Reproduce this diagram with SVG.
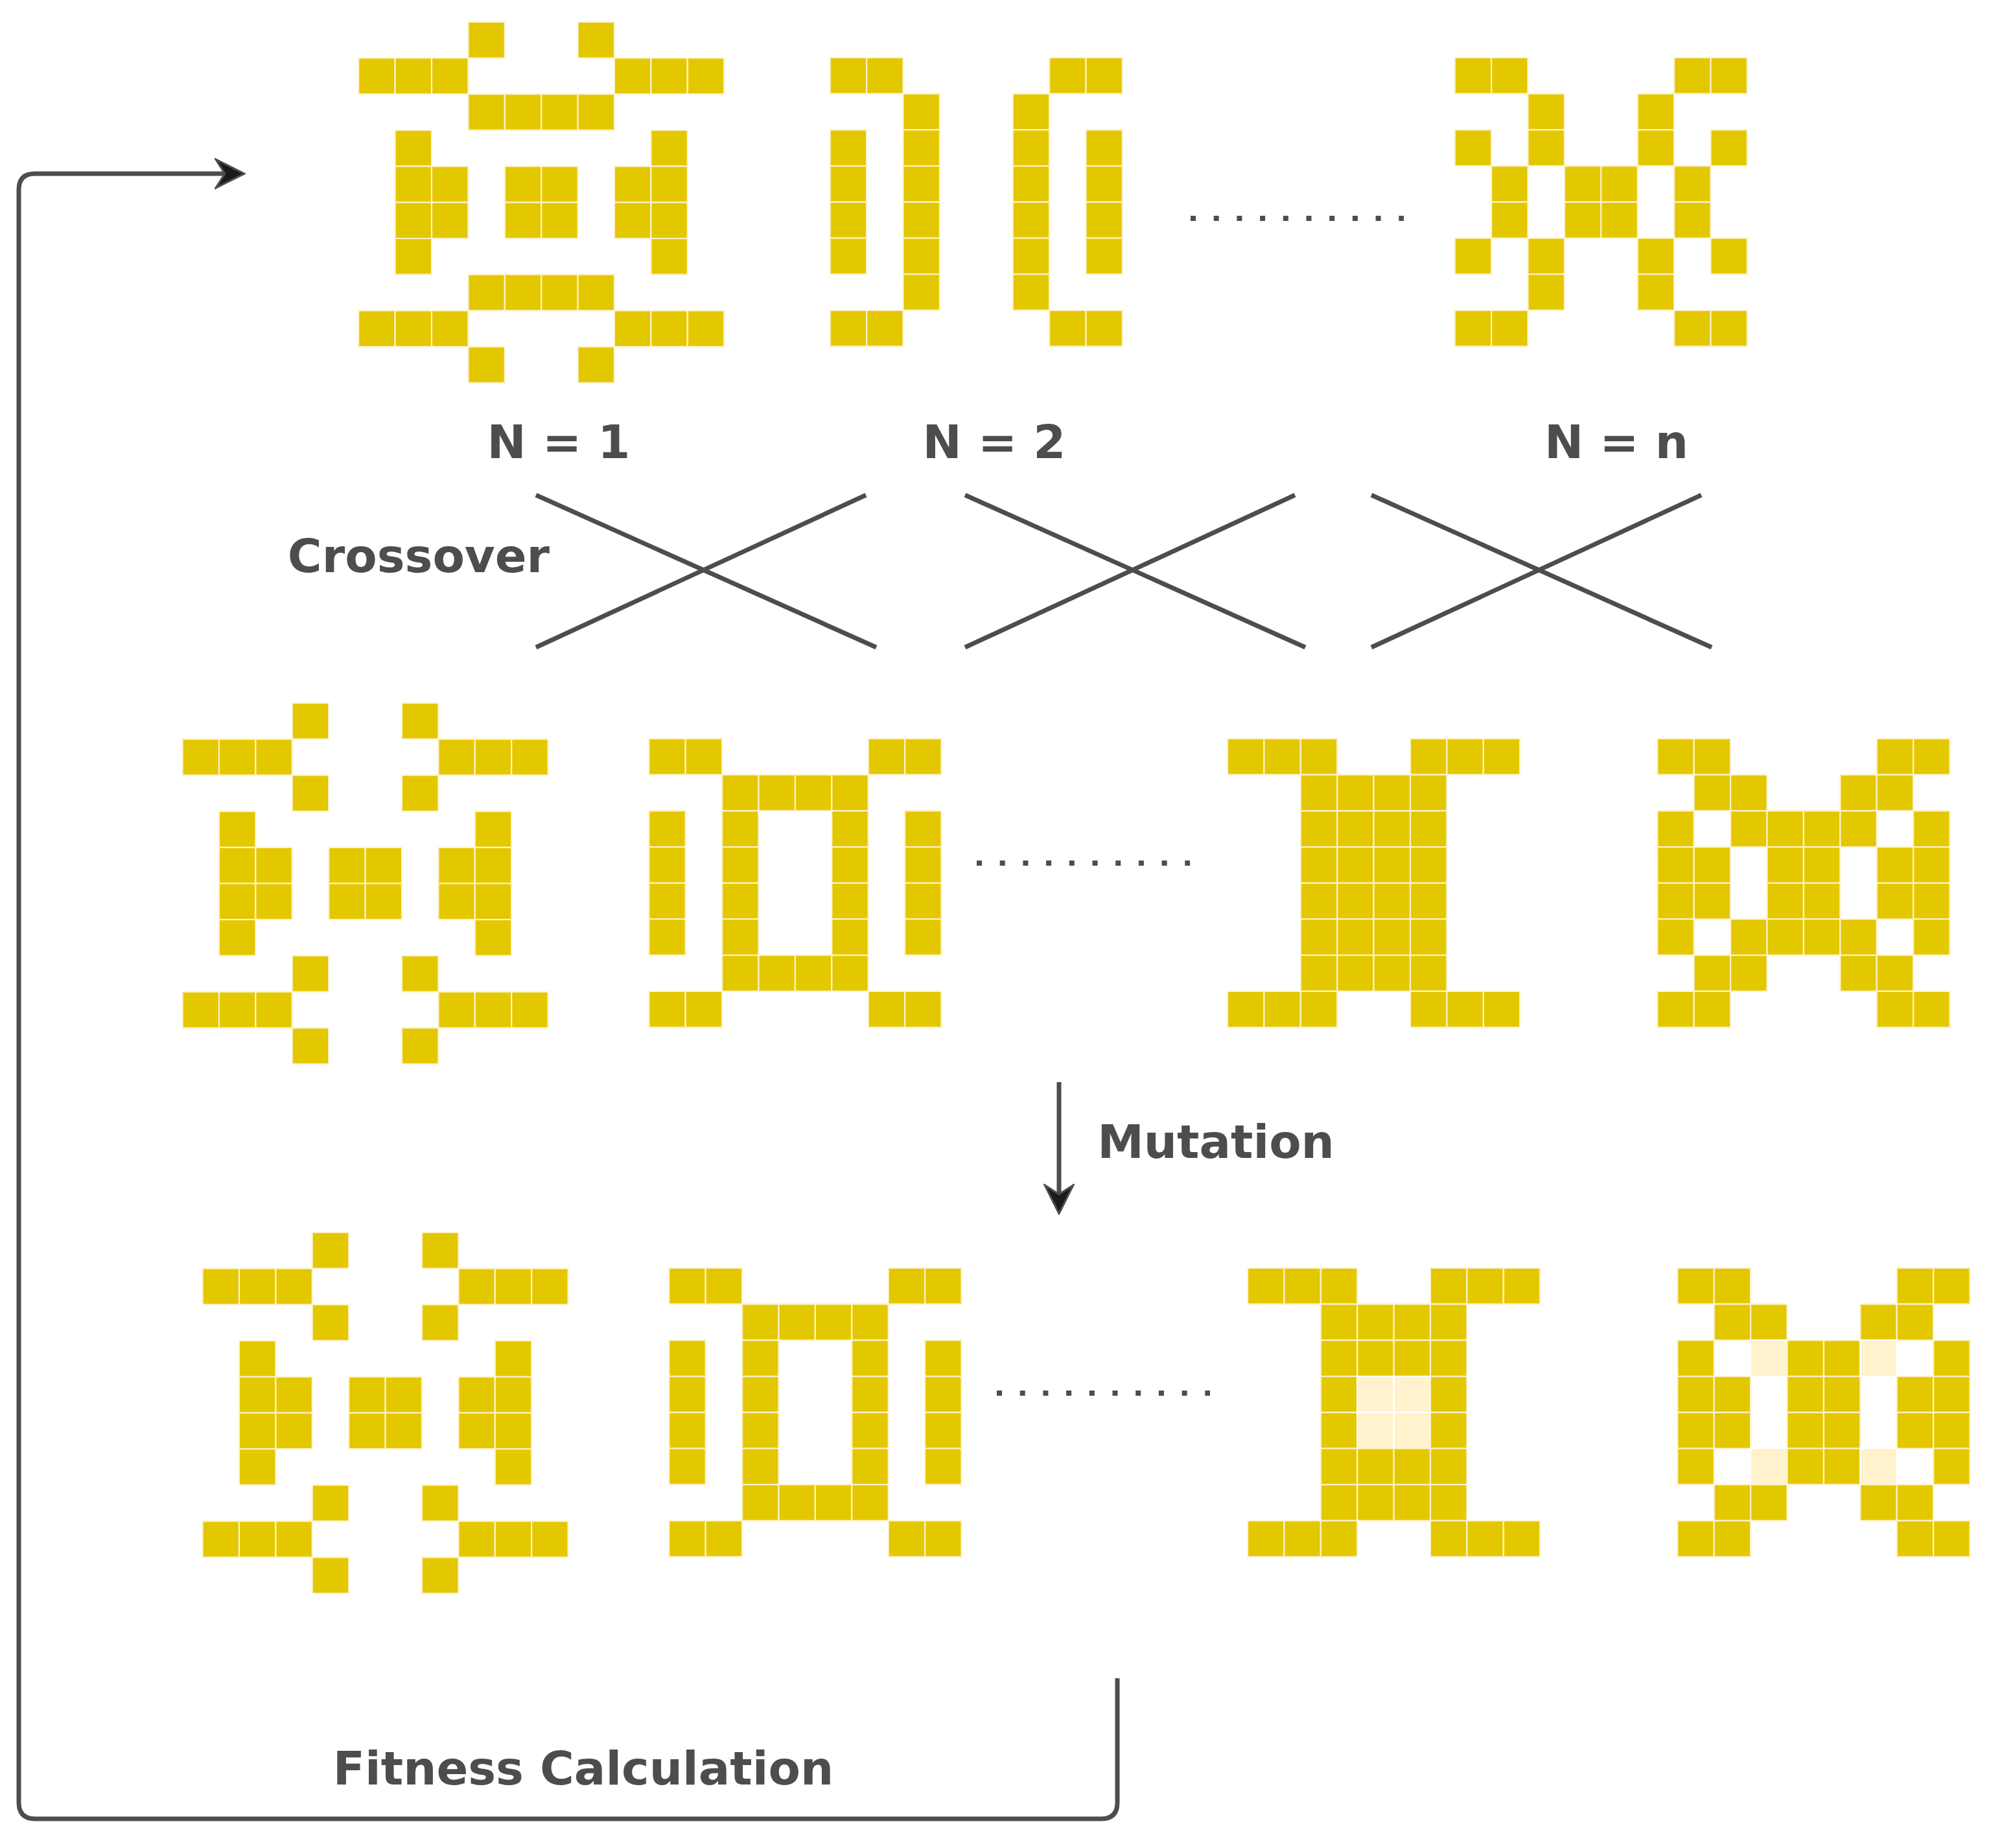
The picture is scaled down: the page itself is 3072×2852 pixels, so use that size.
<svg xmlns="http://www.w3.org/2000/svg" width="3072" height="2852" viewBox="0 0 3072 2852">
<style>
.cell rect{fill:#E3C800;stroke:#FFF2CC;stroke-width:2.2px;vector-effect:non-scaling-stroke}
.cell rect.m{fill:#FFF2CC;stroke:#FFFFFF}
.lbl{font-family:"DejaVu Sans","Liberation Sans",sans-serif;font-weight:bold;font-size:72px;fill:#4D4D4D}
.ln{stroke:#4D4D4D;stroke-width:7;fill:none}
.dots{stroke:#4D4D4D;stroke-width:8;stroke-dasharray:8 27.7;fill:none}
</style>
<defs>
<marker id="arr" viewBox="-16 -24 48 48" markerWidth="48" markerHeight="48" markerUnits="userSpaceOnUse" refX="0" refY="0" orient="auto">
<path d="M30,0 L-14,-22 L0,0 L-14,22 Z" fill="#1A1A1A" stroke="#4D4D4D" stroke-width="3" stroke-linejoin="miter"/>
</marker>
</defs>
<rect width="3072" height="2852" fill="#FFFFFF"/>

<g id="top-n1" class="cell" transform="translate(553.2,33.8) scale(56.4,55.7)">
<rect x="3" y="0" width="1" height="1"/><rect x="6" y="0" width="1" height="1"/>
<rect x="0" y="1" width="1" height="1"/><rect x="1" y="1" width="1" height="1"/><rect x="2" y="1" width="1" height="1"/><rect x="7" y="1" width="1" height="1"/><rect x="8" y="1" width="1" height="1"/><rect x="9" y="1" width="1" height="1"/>
<rect x="3" y="2" width="1" height="1"/><rect x="4" y="2" width="1" height="1"/><rect x="5" y="2" width="1" height="1"/><rect x="6" y="2" width="1" height="1"/>
<rect x="1" y="3" width="1" height="1"/><rect x="8" y="3" width="1" height="1"/>
<rect x="1" y="4" width="1" height="1"/><rect x="2" y="4" width="1" height="1"/><rect x="4" y="4" width="1" height="1"/><rect x="5" y="4" width="1" height="1"/><rect x="7" y="4" width="1" height="1"/><rect x="8" y="4" width="1" height="1"/>
<rect x="1" y="5" width="1" height="1"/><rect x="2" y="5" width="1" height="1"/><rect x="4" y="5" width="1" height="1"/><rect x="5" y="5" width="1" height="1"/><rect x="7" y="5" width="1" height="1"/><rect x="8" y="5" width="1" height="1"/>
<rect x="1" y="6" width="1" height="1"/><rect x="8" y="6" width="1" height="1"/>
<rect x="3" y="7" width="1" height="1"/><rect x="4" y="7" width="1" height="1"/><rect x="5" y="7" width="1" height="1"/><rect x="6" y="7" width="1" height="1"/>
<rect x="0" y="8" width="1" height="1"/><rect x="1" y="8" width="1" height="1"/><rect x="2" y="8" width="1" height="1"/><rect x="7" y="8" width="1" height="1"/><rect x="8" y="8" width="1" height="1"/><rect x="9" y="8" width="1" height="1"/>
<rect x="3" y="9" width="1" height="1"/><rect x="6" y="9" width="1" height="1"/>
</g>

<g id="top-n2" class="cell" transform="translate(1280.7,89) scale(56.4,55.7)">
<rect x="0" y="0" width="1" height="1"/><rect x="1" y="0" width="1" height="1"/><rect x="6" y="0" width="1" height="1"/><rect x="7" y="0" width="1" height="1"/>
<rect x="2" y="1" width="1" height="1"/><rect x="5" y="1" width="1" height="1"/>
<rect x="0" y="2" width="1" height="1"/><rect x="2" y="2" width="1" height="1"/><rect x="5" y="2" width="1" height="1"/><rect x="7" y="2" width="1" height="1"/>
<rect x="0" y="3" width="1" height="1"/><rect x="2" y="3" width="1" height="1"/><rect x="5" y="3" width="1" height="1"/><rect x="7" y="3" width="1" height="1"/>
<rect x="0" y="4" width="1" height="1"/><rect x="2" y="4" width="1" height="1"/><rect x="5" y="4" width="1" height="1"/><rect x="7" y="4" width="1" height="1"/>
<rect x="0" y="5" width="1" height="1"/><rect x="2" y="5" width="1" height="1"/><rect x="5" y="5" width="1" height="1"/><rect x="7" y="5" width="1" height="1"/>
<rect x="2" y="6" width="1" height="1"/><rect x="5" y="6" width="1" height="1"/>
<rect x="0" y="7" width="1" height="1"/><rect x="1" y="7" width="1" height="1"/><rect x="6" y="7" width="1" height="1"/><rect x="7" y="7" width="1" height="1"/>
</g>

<g id="top-nn" class="cell" transform="translate(2244.7,89) scale(56.4,55.7)">
<rect x="0" y="0" width="1" height="1"/><rect x="1" y="0" width="1" height="1"/><rect x="6" y="0" width="1" height="1"/><rect x="7" y="0" width="1" height="1"/>
<rect x="2" y="1" width="1" height="1"/><rect x="5" y="1" width="1" height="1"/>
<rect x="0" y="2" width="1" height="1"/><rect x="2" y="2" width="1" height="1"/><rect x="5" y="2" width="1" height="1"/><rect x="7" y="2" width="1" height="1"/>
<rect x="1" y="3" width="1" height="1"/><rect x="3" y="3" width="1" height="1"/><rect x="4" y="3" width="1" height="1"/><rect x="6" y="3" width="1" height="1"/>
<rect x="1" y="4" width="1" height="1"/><rect x="3" y="4" width="1" height="1"/><rect x="4" y="4" width="1" height="1"/><rect x="6" y="4" width="1" height="1"/>
<rect x="0" y="5" width="1" height="1"/><rect x="2" y="5" width="1" height="1"/><rect x="5" y="5" width="1" height="1"/><rect x="7" y="5" width="1" height="1"/>
<rect x="2" y="6" width="1" height="1"/><rect x="5" y="6" width="1" height="1"/>
<rect x="0" y="7" width="1" height="1"/><rect x="1" y="7" width="1" height="1"/><rect x="6" y="7" width="1" height="1"/><rect x="7" y="7" width="1" height="1"/>
</g>

<g id="mid-a" class="cell" transform="translate(281.6,1085) scale(56.4,55.7)">
<rect x="3" y="0" width="1" height="1"/><rect x="6" y="0" width="1" height="1"/>
<rect x="0" y="1" width="1" height="1"/><rect x="1" y="1" width="1" height="1"/><rect x="2" y="1" width="1" height="1"/><rect x="7" y="1" width="1" height="1"/><rect x="8" y="1" width="1" height="1"/><rect x="9" y="1" width="1" height="1"/>
<rect x="3" y="2" width="1" height="1"/><rect x="6" y="2" width="1" height="1"/>
<rect x="1" y="3" width="1" height="1"/><rect x="8" y="3" width="1" height="1"/>
<rect x="1" y="4" width="1" height="1"/><rect x="2" y="4" width="1" height="1"/><rect x="4" y="4" width="1" height="1"/><rect x="5" y="4" width="1" height="1"/><rect x="7" y="4" width="1" height="1"/><rect x="8" y="4" width="1" height="1"/>
<rect x="1" y="5" width="1" height="1"/><rect x="2" y="5" width="1" height="1"/><rect x="4" y="5" width="1" height="1"/><rect x="5" y="5" width="1" height="1"/><rect x="7" y="5" width="1" height="1"/><rect x="8" y="5" width="1" height="1"/>
<rect x="1" y="6" width="1" height="1"/><rect x="8" y="6" width="1" height="1"/>
<rect x="3" y="7" width="1" height="1"/><rect x="6" y="7" width="1" height="1"/>
<rect x="0" y="8" width="1" height="1"/><rect x="1" y="8" width="1" height="1"/><rect x="2" y="8" width="1" height="1"/><rect x="7" y="8" width="1" height="1"/><rect x="8" y="8" width="1" height="1"/><rect x="9" y="8" width="1" height="1"/>
<rect x="3" y="9" width="1" height="1"/><rect x="6" y="9" width="1" height="1"/>
</g>

<g id="mid-b" class="cell" transform="translate(1001.3,1140) scale(56.4,55.7)">
<rect x="0" y="0" width="1" height="1"/><rect x="1" y="0" width="1" height="1"/><rect x="6" y="0" width="1" height="1"/><rect x="7" y="0" width="1" height="1"/>
<rect x="2" y="1" width="1" height="1"/><rect x="3" y="1" width="1" height="1"/><rect x="4" y="1" width="1" height="1"/><rect x="5" y="1" width="1" height="1"/>
<rect x="0" y="2" width="1" height="1"/><rect x="2" y="2" width="1" height="1"/><rect x="5" y="2" width="1" height="1"/><rect x="7" y="2" width="1" height="1"/>
<rect x="0" y="3" width="1" height="1"/><rect x="2" y="3" width="1" height="1"/><rect x="5" y="3" width="1" height="1"/><rect x="7" y="3" width="1" height="1"/>
<rect x="0" y="4" width="1" height="1"/><rect x="2" y="4" width="1" height="1"/><rect x="5" y="4" width="1" height="1"/><rect x="7" y="4" width="1" height="1"/>
<rect x="0" y="5" width="1" height="1"/><rect x="2" y="5" width="1" height="1"/><rect x="5" y="5" width="1" height="1"/><rect x="7" y="5" width="1" height="1"/>
<rect x="2" y="6" width="1" height="1"/><rect x="3" y="6" width="1" height="1"/><rect x="4" y="6" width="1" height="1"/><rect x="5" y="6" width="1" height="1"/>
<rect x="0" y="7" width="1" height="1"/><rect x="1" y="7" width="1" height="1"/><rect x="6" y="7" width="1" height="1"/><rect x="7" y="7" width="1" height="1"/>
</g>

<g id="mid-c" class="cell" transform="translate(1894,1140) scale(56.4,55.7)">
<rect x="0" y="0" width="1" height="1"/><rect x="1" y="0" width="1" height="1"/><rect x="2" y="0" width="1" height="1"/><rect x="5" y="0" width="1" height="1"/><rect x="6" y="0" width="1" height="1"/><rect x="7" y="0" width="1" height="1"/>
<rect x="2" y="1" width="1" height="1"/><rect x="3" y="1" width="1" height="1"/><rect x="4" y="1" width="1" height="1"/><rect x="5" y="1" width="1" height="1"/>
<rect x="2" y="2" width="1" height="1"/><rect x="3" y="2" width="1" height="1"/><rect x="4" y="2" width="1" height="1"/><rect x="5" y="2" width="1" height="1"/>
<rect x="2" y="3" width="1" height="1"/><rect x="3" y="3" width="1" height="1"/><rect x="4" y="3" width="1" height="1"/><rect x="5" y="3" width="1" height="1"/>
<rect x="2" y="4" width="1" height="1"/><rect x="3" y="4" width="1" height="1"/><rect x="4" y="4" width="1" height="1"/><rect x="5" y="4" width="1" height="1"/>
<rect x="2" y="5" width="1" height="1"/><rect x="3" y="5" width="1" height="1"/><rect x="4" y="5" width="1" height="1"/><rect x="5" y="5" width="1" height="1"/>
<rect x="2" y="6" width="1" height="1"/><rect x="3" y="6" width="1" height="1"/><rect x="4" y="6" width="1" height="1"/><rect x="5" y="6" width="1" height="1"/>
<rect x="0" y="7" width="1" height="1"/><rect x="1" y="7" width="1" height="1"/><rect x="2" y="7" width="1" height="1"/><rect x="5" y="7" width="1" height="1"/><rect x="6" y="7" width="1" height="1"/><rect x="7" y="7" width="1" height="1"/>
</g>

<g id="mid-d" class="cell" transform="translate(2557.3,1140) scale(56.4,55.7)">
<rect x="0" y="0" width="1" height="1"/><rect x="1" y="0" width="1" height="1"/><rect x="6" y="0" width="1" height="1"/><rect x="7" y="0" width="1" height="1"/>
<rect x="1" y="1" width="1" height="1"/><rect x="2" y="1" width="1" height="1"/><rect x="5" y="1" width="1" height="1"/><rect x="6" y="1" width="1" height="1"/>
<rect x="0" y="2" width="1" height="1"/><rect x="2" y="2" width="1" height="1"/><rect x="3" y="2" width="1" height="1"/><rect x="4" y="2" width="1" height="1"/><rect x="5" y="2" width="1" height="1"/><rect x="7" y="2" width="1" height="1"/>
<rect x="0" y="3" width="1" height="1"/><rect x="1" y="3" width="1" height="1"/><rect x="3" y="3" width="1" height="1"/><rect x="4" y="3" width="1" height="1"/><rect x="6" y="3" width="1" height="1"/><rect x="7" y="3" width="1" height="1"/>
<rect x="0" y="4" width="1" height="1"/><rect x="1" y="4" width="1" height="1"/><rect x="3" y="4" width="1" height="1"/><rect x="4" y="4" width="1" height="1"/><rect x="6" y="4" width="1" height="1"/><rect x="7" y="4" width="1" height="1"/>
<rect x="0" y="5" width="1" height="1"/><rect x="2" y="5" width="1" height="1"/><rect x="3" y="5" width="1" height="1"/><rect x="4" y="5" width="1" height="1"/><rect x="5" y="5" width="1" height="1"/><rect x="7" y="5" width="1" height="1"/>
<rect x="1" y="6" width="1" height="1"/><rect x="2" y="6" width="1" height="1"/><rect x="5" y="6" width="1" height="1"/><rect x="6" y="6" width="1" height="1"/>
<rect x="0" y="7" width="1" height="1"/><rect x="1" y="7" width="1" height="1"/><rect x="6" y="7" width="1" height="1"/><rect x="7" y="7" width="1" height="1"/>
</g>

<g id="bot-a" class="cell" transform="translate(312.6,1902) scale(56.4,55.7)">
<rect x="3" y="0" width="1" height="1"/><rect x="6" y="0" width="1" height="1"/>
<rect x="0" y="1" width="1" height="1"/><rect x="1" y="1" width="1" height="1"/><rect x="2" y="1" width="1" height="1"/><rect x="7" y="1" width="1" height="1"/><rect x="8" y="1" width="1" height="1"/><rect x="9" y="1" width="1" height="1"/>
<rect x="3" y="2" width="1" height="1"/><rect x="6" y="2" width="1" height="1"/>
<rect x="1" y="3" width="1" height="1"/><rect x="8" y="3" width="1" height="1"/>
<rect x="1" y="4" width="1" height="1"/><rect x="2" y="4" width="1" height="1"/><rect x="4" y="4" width="1" height="1"/><rect x="5" y="4" width="1" height="1"/><rect x="7" y="4" width="1" height="1"/><rect x="8" y="4" width="1" height="1"/>
<rect x="1" y="5" width="1" height="1"/><rect x="2" y="5" width="1" height="1"/><rect x="4" y="5" width="1" height="1"/><rect x="5" y="5" width="1" height="1"/><rect x="7" y="5" width="1" height="1"/><rect x="8" y="5" width="1" height="1"/>
<rect x="1" y="6" width="1" height="1"/><rect x="8" y="6" width="1" height="1"/>
<rect x="3" y="7" width="1" height="1"/><rect x="6" y="7" width="1" height="1"/>
<rect x="0" y="8" width="1" height="1"/><rect x="1" y="8" width="1" height="1"/><rect x="2" y="8" width="1" height="1"/><rect x="7" y="8" width="1" height="1"/><rect x="8" y="8" width="1" height="1"/><rect x="9" y="8" width="1" height="1"/>
<rect x="3" y="9" width="1" height="1"/><rect x="6" y="9" width="1" height="1"/>
</g>

<g id="bot-b" class="cell" transform="translate(1032.3,1957) scale(56.4,55.7)">
<rect x="0" y="0" width="1" height="1"/><rect x="1" y="0" width="1" height="1"/><rect x="6" y="0" width="1" height="1"/><rect x="7" y="0" width="1" height="1"/>
<rect x="2" y="1" width="1" height="1"/><rect x="3" y="1" width="1" height="1"/><rect x="4" y="1" width="1" height="1"/><rect x="5" y="1" width="1" height="1"/>
<rect x="0" y="2" width="1" height="1"/><rect x="2" y="2" width="1" height="1"/><rect x="5" y="2" width="1" height="1"/><rect x="7" y="2" width="1" height="1"/>
<rect x="0" y="3" width="1" height="1"/><rect x="2" y="3" width="1" height="1"/><rect x="5" y="3" width="1" height="1"/><rect x="7" y="3" width="1" height="1"/>
<rect x="0" y="4" width="1" height="1"/><rect x="2" y="4" width="1" height="1"/><rect x="5" y="4" width="1" height="1"/><rect x="7" y="4" width="1" height="1"/>
<rect x="0" y="5" width="1" height="1"/><rect x="2" y="5" width="1" height="1"/><rect x="5" y="5" width="1" height="1"/><rect x="7" y="5" width="1" height="1"/>
<rect x="2" y="6" width="1" height="1"/><rect x="3" y="6" width="1" height="1"/><rect x="4" y="6" width="1" height="1"/><rect x="5" y="6" width="1" height="1"/>
<rect x="0" y="7" width="1" height="1"/><rect x="1" y="7" width="1" height="1"/><rect x="6" y="7" width="1" height="1"/><rect x="7" y="7" width="1" height="1"/>
</g>

<g id="bot-c" class="cell" transform="translate(1925,1957) scale(56.4,55.7)">
<rect x="0" y="0" width="1" height="1"/><rect x="1" y="0" width="1" height="1"/><rect x="2" y="0" width="1" height="1"/><rect x="5" y="0" width="1" height="1"/><rect x="6" y="0" width="1" height="1"/><rect x="7" y="0" width="1" height="1"/>
<rect x="2" y="1" width="1" height="1"/><rect x="3" y="1" width="1" height="1"/><rect x="4" y="1" width="1" height="1"/><rect x="5" y="1" width="1" height="1"/>
<rect x="2" y="2" width="1" height="1"/><rect x="3" y="2" width="1" height="1"/><rect x="4" y="2" width="1" height="1"/><rect x="5" y="2" width="1" height="1"/>
<rect x="2" y="3" width="1" height="1"/><rect class="m" x="3" y="3" width="1" height="1"/><rect class="m" x="4" y="3" width="1" height="1"/><rect x="5" y="3" width="1" height="1"/>
<rect x="2" y="4" width="1" height="1"/><rect class="m" x="3" y="4" width="1" height="1"/><rect class="m" x="4" y="4" width="1" height="1"/><rect x="5" y="4" width="1" height="1"/>
<rect x="2" y="5" width="1" height="1"/><rect x="3" y="5" width="1" height="1"/><rect x="4" y="5" width="1" height="1"/><rect x="5" y="5" width="1" height="1"/>
<rect x="2" y="6" width="1" height="1"/><rect x="3" y="6" width="1" height="1"/><rect x="4" y="6" width="1" height="1"/><rect x="5" y="6" width="1" height="1"/>
<rect x="0" y="7" width="1" height="1"/><rect x="1" y="7" width="1" height="1"/><rect x="2" y="7" width="1" height="1"/><rect x="5" y="7" width="1" height="1"/><rect x="6" y="7" width="1" height="1"/><rect x="7" y="7" width="1" height="1"/>
</g>

<g id="bot-d" class="cell" transform="translate(2588.3,1957) scale(56.4,55.7)">
<rect x="0" y="0" width="1" height="1"/><rect x="1" y="0" width="1" height="1"/><rect x="6" y="0" width="1" height="1"/><rect x="7" y="0" width="1" height="1"/>
<rect x="1" y="1" width="1" height="1"/><rect x="2" y="1" width="1" height="1"/><rect x="5" y="1" width="1" height="1"/><rect x="6" y="1" width="1" height="1"/>
<rect x="0" y="2" width="1" height="1"/><rect class="m" x="2" y="2" width="1" height="1"/><rect x="3" y="2" width="1" height="1"/><rect x="4" y="2" width="1" height="1"/><rect class="m" x="5" y="2" width="1" height="1"/><rect x="7" y="2" width="1" height="1"/>
<rect x="0" y="3" width="1" height="1"/><rect x="1" y="3" width="1" height="1"/><rect x="3" y="3" width="1" height="1"/><rect x="4" y="3" width="1" height="1"/><rect x="6" y="3" width="1" height="1"/><rect x="7" y="3" width="1" height="1"/>
<rect x="0" y="4" width="1" height="1"/><rect x="1" y="4" width="1" height="1"/><rect x="3" y="4" width="1" height="1"/><rect x="4" y="4" width="1" height="1"/><rect x="6" y="4" width="1" height="1"/><rect x="7" y="4" width="1" height="1"/>
<rect x="0" y="5" width="1" height="1"/><rect class="m" x="2" y="5" width="1" height="1"/><rect x="3" y="5" width="1" height="1"/><rect x="4" y="5" width="1" height="1"/><rect class="m" x="5" y="5" width="1" height="1"/><rect x="7" y="5" width="1" height="1"/>
<rect x="1" y="6" width="1" height="1"/><rect x="2" y="6" width="1" height="1"/><rect x="5" y="6" width="1" height="1"/><rect x="6" y="6" width="1" height="1"/>
<rect x="0" y="7" width="1" height="1"/><rect x="1" y="7" width="1" height="1"/><rect x="6" y="7" width="1" height="1"/><rect x="7" y="7" width="1" height="1"/>
</g>

<g id="ellipses">
<line class="dots" x1="1837" y1="337" x2="2166" y2="337"/>
<line class="dots" x1="1507" y1="1332" x2="1836" y2="1332"/>
<line class="dots" x1="1538" y1="2150" x2="1867" y2="2150"/>
</g>

<g id="labels">
<text class="lbl" x="862" y="707" text-anchor="middle">N = 1</text>
<text class="lbl" x="1534" y="707" text-anchor="middle">N = 2</text>
<text class="lbl" x="2494" y="707" text-anchor="middle">N = n</text>
<text class="lbl" x="646" y="883" text-anchor="middle">Crossover</text>
<text class="lbl" x="1876" y="1787" text-anchor="middle">Mutation</text>
<text class="lbl" x="900" y="2754" text-anchor="middle">Fitness Calculation</text>
</g>

<g id="connectors">
<line class="ln" x1="827" y1="764" x2="1352" y2="999"/>
<line class="ln" x1="827" y1="999" x2="1336" y2="764"/>
<line class="ln" x1="1489" y1="764" x2="2014" y2="999"/>
<line class="ln" x1="1489" y1="999" x2="1998" y2="764"/>
<line class="ln" x1="2116" y1="764" x2="2641" y2="999"/>
<line class="ln" x1="2116" y1="999" x2="2625" y2="764"/>
<path class="ln" d="M1634,1670 L1634,1843" marker-end="url(#arr)"/>
<path class="ln" d="M1724,2590 L1724,2782 Q1724,2807 1699,2807 L54,2807 Q29,2807 29,2782 L29,293 Q29,268 54,268 L347,268" marker-end="url(#arr)"/>
</g>
</svg>
